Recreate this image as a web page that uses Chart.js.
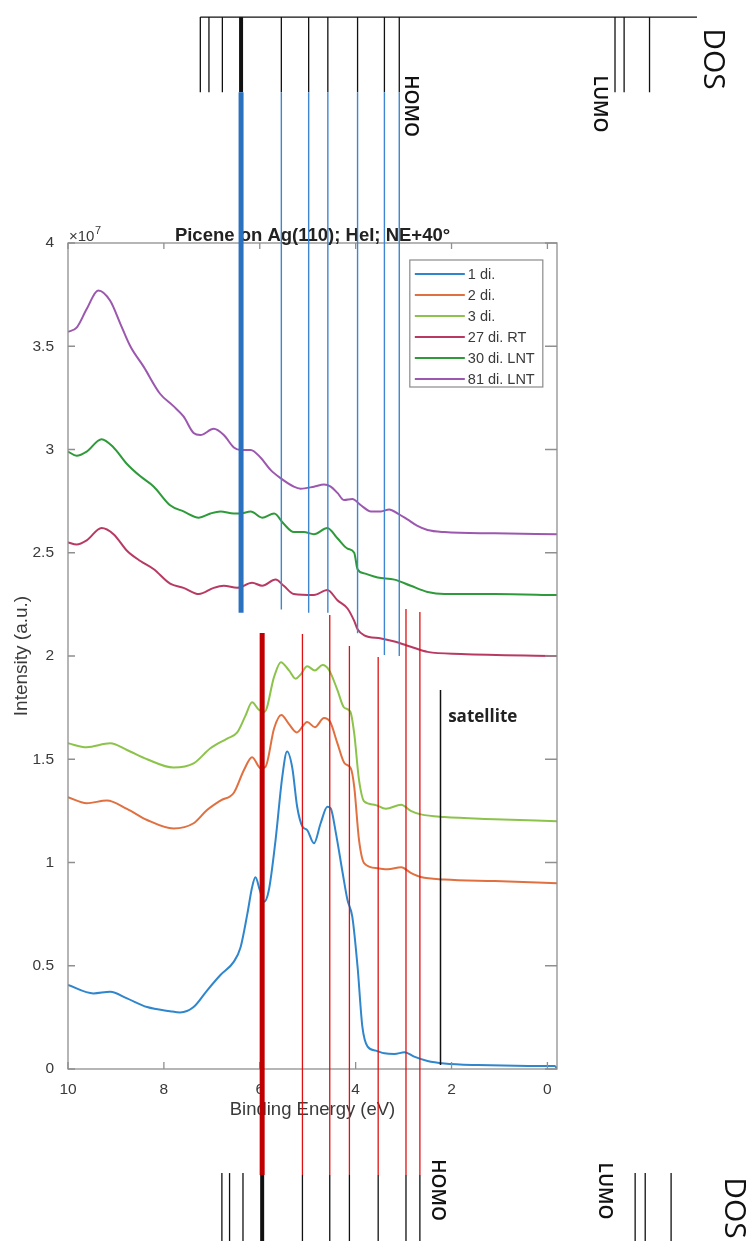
<!DOCTYPE html>
<html>
<head>
<meta charset="utf-8">
<title>Picene on Ag(110)</title>
<script src="https://cdn.jsdelivr.net/npm/chart.js@4.4.1/dist/chart.umd.min.js"></script>
<style>
  html, body { margin: 0; padding: 0; background: #fff; }
  #wrap { position: relative; width: 746px; height: 1241px; }
</style>
</head>
<body>
<div id="wrap"><canvas id="ups"></canvas></div>
<script>
/* UPS spectra, intensity in units of 1e7 */
const xTicks = [10, 8, 6, 4, 2, 0];
const yTicks = [0, 0.5, 1, 1.5, 2, 2.5, 3, 3.5, 4];

const seriesNames = ['1 di.', '2 di.', '3 di.', '27 di. RT', '30 di. LNT', '81 di. LNT'];
const seriesColors = ['#2f86cc', '#e07040', '#8cc34a', '#b83a62', '#2e9a3a', '#9b58ae'];

const e1 = [10, 9.47, 9.12, 8.77, 8.35, 7.87, 7.66, 7.38, 7.10, 6.82, 6.54, 6.40, 6.26, 6.16, 6.09, 6.00, 5.91, 5.81, 5.67, 5.53, 5.43, 5.32, 5.22, 5.11, 5.01, 4.87, 4.73, 4.59, 4.52, 4.41, 4.27, 4.17, 4.07, 3.96, 3.86, 3.75, 3.58, 3.40, 3.19, 2.98, 2.78, 2.50, 2.15, 1.45, 0.40, -0.15, -0.2];
const i1 = [0.407, 0.366, 0.374, 0.342, 0.30, 0.28, 0.274, 0.30, 0.38, 0.455, 0.52, 0.59, 0.75, 0.88, 0.928, 0.867, 0.81, 0.867, 1.11, 1.416, 1.537, 1.456, 1.27, 1.174, 1.157, 1.093, 1.19, 1.27, 1.262, 1.14, 0.948, 0.818, 0.738, 0.495, 0.205, 0.108, 0.089, 0.076, 0.073, 0.081, 0.06, 0.039, 0.027, 0.019, 0.015, 0.015, 0.003];

const e2 = [10, 9.61, 9.19, 8.77, 8.35, 7.80, 7.38, 7.10, 6.82, 6.54, 6.33, 6.16, 5.98, 5.88, 5.70, 5.55, 5.39, 5.23, 5.01, 4.85, 4.66, 4.53, 4.38, 4.23, 4.10, 4.03, 3.93, 3.82, 3.54, 3.33, 3.05, 2.85, 2.64, 2.15, 1.10, -0.2];
const i2 = [1.316, 1.287, 1.30, 1.26, 1.206, 1.165, 1.19, 1.254, 1.30, 1.338, 1.448, 1.51, 1.456, 1.464, 1.65, 1.714, 1.67, 1.63, 1.68, 1.655, 1.70, 1.68, 1.577, 1.48, 1.456, 1.367, 1.11, 0.996, 0.972, 0.967, 0.977, 0.95, 0.93, 0.918, 0.91, 0.90];

const e3 = [10, 9.61, 9.12, 8.77, 8.35, 7.80, 7.38, 7.03, 6.68, 6.47, 6.30, 6.16, 6.02, 5.90, 5.70, 5.56, 5.39, 5.25, 5.15, 5.01, 4.85, 4.69, 4.55, 4.38, 4.24, 4.11, 4.03, 3.93, 3.82, 3.61, 3.37, 3.05, 2.85, 2.64, 2.15, 1.10, -0.2];
const i3 = [1.577, 1.558, 1.577, 1.545, 1.50, 1.46, 1.48, 1.553, 1.60, 1.63, 1.71, 1.776, 1.74, 1.73, 1.90, 1.97, 1.93, 1.89, 1.91, 1.95, 1.93, 1.956, 1.93, 1.835, 1.75, 1.73, 1.625, 1.40, 1.295, 1.28, 1.26, 1.28, 1.25, 1.233, 1.22, 1.21, 1.20];

const e27 = [10, 9.82, 9.61, 9.30, 9.05, 8.77, 8.49, 8.21, 7.87, 7.59, 7.27, 6.96, 6.75, 6.47, 6.16, 5.95, 5.67, 5.50, 5.29, 4.87, 4.59, 4.38, 4.17, 4.03, 3.96, 3.82, 3.47, 3.19, 2.85, 2.50, 1.80, -0.2];
const i27 = [2.55, 2.54, 2.56, 2.62, 2.59, 2.51, 2.46, 2.42, 2.35, 2.33, 2.30, 2.33, 2.34, 2.33, 2.355, 2.34, 2.37, 2.34, 2.30, 2.295, 2.32, 2.27, 2.23, 2.17, 2.13, 2.10, 2.085, 2.07, 2.045, 2.02, 2.01, 2.00];

const e30 = [10, 9.82, 9.61, 9.30, 9.05, 8.77, 8.49, 8.21, 7.87, 7.59, 7.27, 7.03, 6.82, 6.54, 6.40, 6.19, 5.95, 5.70, 5.50, 5.29, 5.08, 4.87, 4.59, 4.38, 4.17, 4.03, 3.96, 3.82, 3.54, 3.19, 2.85, 2.50, 2.15, 1.10, -0.2];
const i30 = [2.99, 2.97, 2.99, 3.05, 3.01, 2.93, 2.87, 2.82, 2.73, 2.70, 2.67, 2.69, 2.70, 2.69, 2.69, 2.70, 2.67, 2.69, 2.64, 2.60, 2.60, 2.59, 2.62, 2.57, 2.52, 2.50, 2.42, 2.40, 2.38, 2.37, 2.34, 2.31, 2.30, 2.30, 2.295];

const e81 = [10, 9.82, 9.61, 9.37, 9.12, 8.91, 8.70, 8.42, 8.08, 7.80, 7.59, 7.38, 7.24, 6.96, 6.75, 6.54, 6.40, 6.19, 5.98, 5.77, 5.56, 5.29, 5.15, 4.87, 4.66, 4.52, 4.38, 4.24, 4.07, 3.89, 3.68, 3.47, 3.30, 3.12, 2.91, 2.71, 2.50, 2.15, 1.10, -0.2];
const i81 = [3.57, 3.59, 3.68, 3.77, 3.72, 3.61, 3.50, 3.40, 3.27, 3.21, 3.16, 3.08, 3.07, 3.10, 3.07, 3.01, 2.998, 2.998, 2.96, 2.90, 2.86, 2.82, 2.81, 2.82, 2.83, 2.82, 2.79, 2.755, 2.76, 2.73, 2.70, 2.70, 2.71, 2.69, 2.66, 2.63, 2.61, 2.60, 2.594, 2.59];

// molecular level markers (binding energy, eV)
const blueLevels = [6.39, 5.55, 4.98, 4.58, 3.96, 3.40, 3.09];
const blueEnds   = [2.21, 2.225, 2.21, 2.21, 2.11, 2.005, 2.0];
const redLevels  = [5.95, 5.11, 4.54, 4.13, 3.53, 2.95, 2.66];
const redStarts  = [2.111, 2.107, 2.199, 2.048, 1.995, 2.228, 2.213];
const topExtra   = [7.24, 7.06, 6.78];
const topLumo    = [-1.41, -1.60, -2.13];
const botExtra   = [6.79, 6.63, 6.35];
const botLumo    = [-1.83, -2.04, -2.58];
const satelliteE = 2.23;

const FONT = "'Liberation Sans', Arial, sans-serif";
const TXT = '#3a3a3a';
const TITLE = 'Picene on Ag(110); HeI; NE+40\u00b0';

const pairs = (xs, ys) => xs.map((v, k) => ({ x: v, y: ys[k] }));
const allE = [e1, e2, e3, e27, e30, e81];
const allI = [i1, i2, i3, i27, i30, i81];

const overlay = {
  id: 'overlay',
  afterDraw(chart) {
    const { ctx, chartArea: a, scales: { x, y } } = chart;
    const px = e => x.getPixelForValue(e);
    const py = v => y.getPixelForValue(v);
    ctx.save();

    // box + inward ticks (matlab style)
    ctx.strokeStyle = '#8f8f8f';
    ctx.lineWidth = 1.3;
    ctx.strokeRect(a.left, a.top, a.right - a.left, a.bottom - a.top);
    ctx.beginPath();
    xTicks.forEach(v => {
      const p = px(v);
      ctx.moveTo(p, a.bottom); ctx.lineTo(p, a.bottom - 7);
      ctx.moveTo(p, a.top); ctx.lineTo(p, a.top + 6);
    });
    yTicks.forEach(v => {
      const p = py(v);
      ctx.moveTo(a.left, p); ctx.lineTo(a.left + 7, p);
      ctx.moveTo(a.right, p); ctx.lineTo(a.right - 12, p);
    });
    ctx.stroke();

    // title, centred over the axes
    ctx.fillStyle = '#222';
    ctx.font = `bold 18.5px ${FONT}`;
    ctx.textAlign = 'center';
    ctx.textBaseline = 'middle';
    ctx.fillText(TITLE, (a.left + a.right) / 2, a.top - 7);

    // x10^7 exponent
    ctx.fillStyle = TXT;
    ctx.textBaseline = 'alphabetic';
    ctx.textAlign = 'left';
    ctx.font = `15px ${FONT}`;
    ctx.fillText('\u00d710', a.left + 1, a.top - 2);
    ctx.font = `11px ${FONT}`;
    ctx.fillText('7', a.left + 27, a.top - 9);

    // legend box
    const lx = px(2.87), ly = 260, lw = 133, lh = 127;
    ctx.fillStyle = '#fff';
    ctx.fillRect(lx, ly, lw, lh);
    ctx.strokeStyle = '#8a8a8a';
    ctx.lineWidth = 1.2;
    ctx.strokeRect(lx, ly, lw, lh);
    ctx.font = `14.5px ${FONT}`;
    ctx.textBaseline = 'middle';
    seriesNames.forEach((n, k) => {
      const yy = ly + 14 + k * 21;
      ctx.strokeStyle = seriesColors[k];
      ctx.lineWidth = 2;
      ctx.beginPath(); ctx.moveTo(lx + 5, yy); ctx.lineTo(lx + 55, yy); ctx.stroke();
      ctx.fillStyle = TXT;
      ctx.fillText(n, lx + 58, yy + 1);
    });

    const vline = (e, v0, v1, color, w) => {
      ctx.strokeStyle = color;
      ctx.lineWidth = w;
      ctx.beginPath();
      ctx.moveTo(px(e), py(v0));
      ctx.lineTo(px(e), py(v1));
      ctx.stroke();
    };

    // top DOS
    const topLine = 5.094, topEnd = 4.73;
    ctx.strokeStyle = '#111';
    ctx.lineWidth = 1.3;
    ctx.beginPath(); ctx.moveTo(px(7.24), py(topLine)); ctx.lineTo(px(-3.12), py(topLine)); ctx.stroke();
    topExtra.concat(topLumo).forEach(e => vline(e, topLine, topEnd, '#111', 1.3));
    blueLevels.forEach((e, k) => {
      vline(e, topLine, topEnd, '#111', k === 0 ? 4 : 1.3);
      vline(e, topEnd, blueEnds[k], k === 0 ? '#2a72c0' : '#3f86d0', k === 0 ? 5 : 1.4);
    });

    // bottom DOS
    const botStart = -0.513, botEnd = -0.86;
    botExtra.concat(botLumo).forEach(e => vline(e, -0.504, botEnd, '#111', 1.3));
    redLevels.forEach((e, k) => {
      vline(e, redStarts[k], botStart, k === 0 ? '#c00000' : '#dd1111', k === 0 ? 5 : 1.3);
      vline(e, botStart, botEnd, '#111', k === 0 ? 4 : 1.3);
    });

    // satellite marker
    vline(satelliteE, 1.835, 0.019, '#111', 1.5);
    ctx.fillStyle = '#222';
    ctx.font = "bold 17px 'Open Sans', sans-serif";
    ctx.textAlign = 'left';
    ctx.textBaseline = 'middle';
    ctx.fillText('satellite', px(2.07), py(1.705));

    // rotated labels
    const rot = (txt, e, v, font) => {
      ctx.save();
      ctx.translate(px(e), py(v));
      ctx.rotate(Math.PI / 2);
      ctx.font = font;
      ctx.textAlign = 'center';
      ctx.textBaseline = 'middle';
      ctx.fillStyle = '#111';
      ctx.fillText(txt, 0, 0);
      ctx.restore();
    };
    const small = "600 19px 'Open Sans', sans-serif";
    const big = "30px 'Open Sans', sans-serif";
    rot('HOMO', 2.86, 4.663, small);
    rot('LUMO', -1.09, 4.673, small);
    rot('DOS', -3.45, 4.891, big);
    rot('HOMO', 2.30, -0.586, small);
    rot('LUMO', -1.19, -0.591, small);
    rot('DOS', -3.89, -0.673, big);

    ctx.restore();
  }
};

new Chart(document.getElementById('ups'), {
  type: 'line',
  data: {
    datasets: seriesNames.map((n, k) => ({
      label: n,
      data: pairs(allE[k], allI[k]),
      borderColor: seriesColors[k],
      backgroundColor: seriesColors[k],
      borderWidth: 2,
      pointRadius: 0,
      fill: false,
      cubicInterpolationMode: 'monotone'
    }))
  },
  options: {
    responsive: true,
    maintainAspectRatio: false,
    animation: false,
    devicePixelRatio: 1,
    layout: { padding: { left: 0, right: 189, top: 243, bottom: 102 } },
    plugins: {
      legend: { display: false },
      tooltip: { enabled: false },
      title: { display: false }
    },
    scales: {
      x: {
        type: 'linear',
        reverse: true,
        min: -0.2,
        max: 10,
        grid: { display: false },
        border: { display: false },
        afterBuildTicks: s => { s.ticks = xTicks.map(v => ({ value: v })); },
        afterFit: s => { s.height = 70; },
        ticks: { color: TXT, font: { family: FONT, size: 15.5 }, padding: 3, maxRotation: 0, callback: v => String(v) },
        title: { display: true, text: 'Binding Energy (eV)', color: TXT, font: { family: FONT, size: 18.5 }, padding: { top: 0, bottom: 18 } }
      },
      y: {
        type: 'linear',
        min: 0,
        max: 4,
        grid: { display: false },
        border: { display: false },
        afterBuildTicks: s => { s.ticks = yTicks.map(v => ({ value: v })); },
        afterFit: s => { s.width = 68; },
        ticks: { color: TXT, font: { family: FONT, size: 15.5 }, padding: 6, callback: v => String(v) },
        title: { display: true, text: 'Intensity (a.u.)', color: TXT, font: { family: FONT, size: 19 }, padding: { top: 10, bottom: 0 } }
      }
    }
  },
  plugins: [overlay]
});
</script>
</body>
</html>
